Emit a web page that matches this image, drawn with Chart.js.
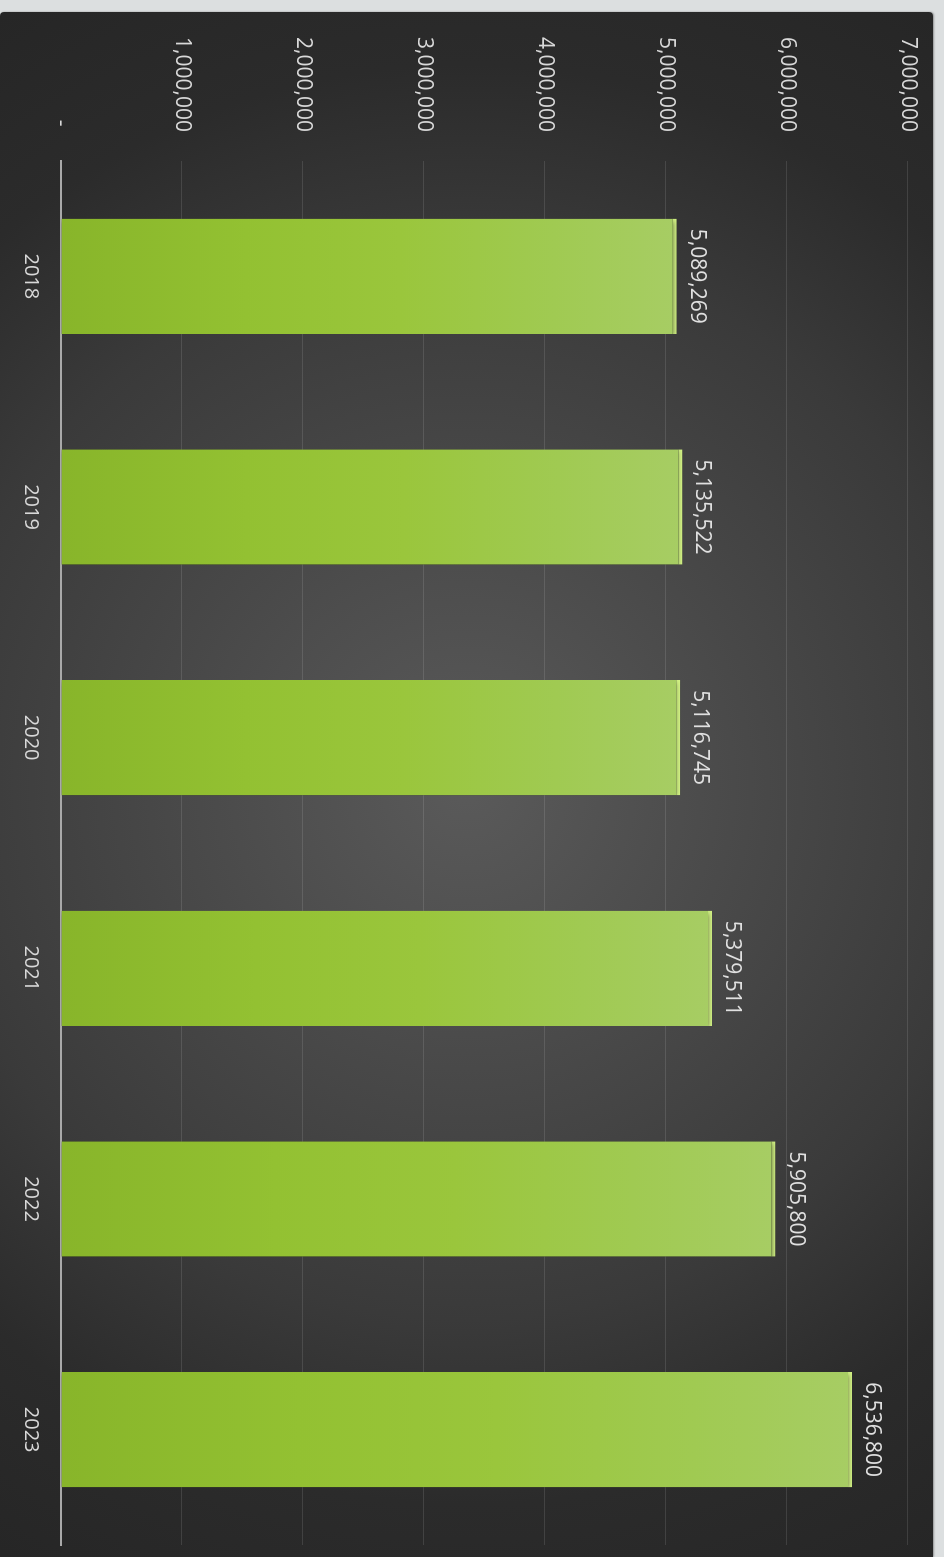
<!DOCTYPE html>
<html>
<head>
<meta charset="utf-8">
<script src="https://cdn.jsdelivr.net/npm/chart.js@4.4.1/dist/chart.umd.min.js"></script>
<style>
  html, body { margin: 0; padding: 0; width: 944px; height: 1557px; overflow: hidden; background: #dcdfe0; }
  #frame {
    position: absolute; left: 0; top: 12px; width: 933px; height: 1545px;
    border-top-left-radius: 4px; border-top-right-radius: 4px; overflow: hidden;
    background: radial-gradient(circle at 50% 50%, #5a5a5a 0px, #3a3a3a 535px, #2b2b2b 720px, #262626 900px);
    box-shadow: 1px 0 2px rgba(0,0,0,0.35);
  }
  #rot {
    position: absolute; left: 0; top: 0; width: 1545px; height: 933px;
    transform-origin: 0 0; transform: translate(933px, 0) rotate(90deg);
  }
</style>
</head>
<body>
<div id="frame"><div id="rot"><canvas id="c" width="1545" height="933"></canvas></div></div>
<script>
const categories = ['2018', '2019', '2020', '2021', '2022', '2023'];
const values = [5089269, 5135522, 5116745, 5379511, 5905800, 6536800];
const axisMin = 0;
const axisMax = 7000000;
const axisStep = 1000000;

const FONT = '"Open Sans", "DejaVu Sans", sans-serif';
const fmt = v => v === 0 ? ' - ' : v.toLocaleString('en-US');

const barShadow = {
  id: 'barShadow',
  beforeDatasetDraw(chart) {
    const ctx = chart.ctx;
    ctx.save();
    ctx.shadowColor = 'rgba(0,0,0,0.55)';
    ctx.shadowBlur = 5;
    ctx.shadowOffsetX = 2;
    ctx.shadowOffsetY = 0;
  },
  afterDatasetDraw(chart) {
    chart.ctx.restore();
  }
};

const valueLabels = {
  id: 'valueLabels',
  afterDatasetsDraw(chart) {
    const ctx = chart.ctx;
    const meta = chart.getDatasetMeta(0);
    ctx.save();
    ctx.font = '21px ' + FONT;
    ctx.fillStyle = '#e0e0e0';
    ctx.textAlign = 'center';
    ctx.textBaseline = 'alphabetic';
    meta.data.forEach((bar, i) => {
      ctx.fillText(fmt(values[i]), bar.x, bar.y - 14);
    });
    ctx.restore();
  }
};

new Chart(document.getElementById('c'), {
  type: 'bar',
  data: {
    labels: categories,
    datasets: [{
      data: values,
      barPercentage: 0.5,
      categoryPercentage: 1.0,
      backgroundColor(context) {
        const chart = context.chart;
        if (!chart.chartArea) return '#95c23a';
        const ys = chart.scales.y;
        const base = ys.getPixelForValue(0);
        const top = ys.getPixelForValue(context.raw || 0);
        const g = chart.ctx.createLinearGradient(0, base, 0, top);
        g.addColorStop(0, '#88b52a');
        g.addColorStop(0.3, '#93c132');
        g.addColorStop(0.55, '#9ac63c');
        g.addColorStop(0.8, '#a0ca52');
        g.addColorStop(1, '#a7cd64');
        return g;
      },
      borderColor: '#d2f284',
      borderWidth: { top: 4, left: 0, right: 0, bottom: 0 },
      borderSkipped: false
    }]
  },
  options: {
    responsive: false,
    animation: false,
    devicePixelRatio: 1,
    layout: { padding: { top: 25, right: 12, left: 0, bottom: 0 } },
    plugins: { legend: { display: false }, tooltip: { enabled: false } },
    scales: {
      x: {
        grid: { display: false, drawTicks: false },
        border: { display: true, color: '#a9a9a9', width: 2 },
        ticks: { color: '#d8d8d8', font: { family: FONT, size: 20 }, padding: 18 },
        afterFit(scale) { scale.height = 61; scale.paddingLeft = 0; scale.paddingRight = 0; }
      },
      y: {
        min: axisMin,
        max: axisMax,
        grid: { color: 'rgba(255,255,255,0.11)', lineWidth: 1, drawTicks: false },
        border: { display: false },
        ticks: {
          stepSize: axisStep,
          color: '#d8d8d8',
          font: { family: FONT, size: 21 },
          padding: 29,
          callback: v => fmt(v)
        },
        afterFit(scale) { scale.width = 149; scale.paddingTop = 0; scale.paddingBottom = 0; }
      }
    }
  },
  plugins: [barShadow, valueLabels]
});
</script>
</body>
</html>
